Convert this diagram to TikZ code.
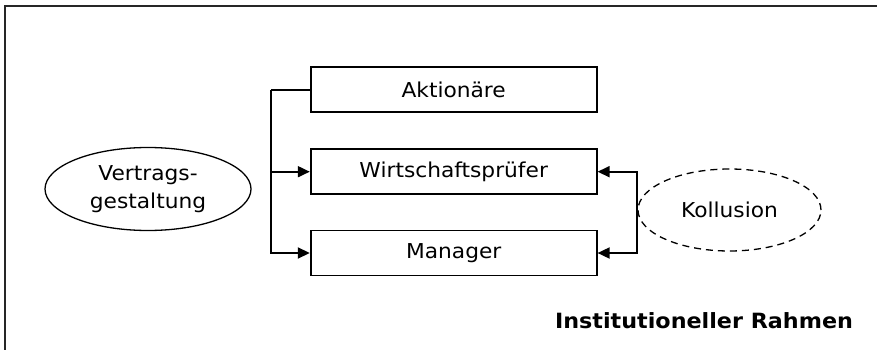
\documentclass[tikz,border=0pt]{standalone}
\usepackage{fontspec}
\setmainfont{DejaVu Sans}
\newfontfamily\widesans[FakeStretch=1.06]{DejaVu Sans}
\usetikzlibrary{shapes.geometric,arrows.meta}
\tikzset{
  rolebox/.style={draw, line width=1.8pt, minimum width=286pt, minimum height=45pt,
    inner sep=0pt, font=\widesans\fontsize{20.5}{24}\selectfont},
  oval/.style={draw, ellipse, line width=1.3pt, inner sep=0pt, align=center,
    font=\widesans\fontsize{20.5}{28.5}\selectfont},
  link/.style={line width=1.8pt, -{Triangle[length=12pt,width=11pt]}},
  frameline/.style={line width=2.2pt, draw=black!85}
}
\begin{document}
\begin{tikzpicture}[x=1pt,y=-1pt]
  \useasboundingbox (0,0) rectangle (877,350);
  % open frame: top and left edges
  \coordinate (fbl) at (5,350);
  \coordinate (ftl) at (5,6);
  \coordinate (ftr) at (877,6);
  \draw[frameline] (fbl) -- (ftl) -- (ftr);

  % the three parties
  \node[rolebox] (akt) at (453.7,89.8) {Aktionäre};
  \node[rolebox] (wp)  at (453.7,171.7) {Wirtschaftsprüfer};
  \node[rolebox] (mgr) at (453.7,253) {Manager};

  % contract design and collusion
  \node[oval, minimum width=206pt, minimum height=83pt] (vg) at (148,189) {Vertrags-\\gestaltung};
  \node[oval, dashed, dash pattern=on 7pt off 5pt, minimum width=183pt, minimum height=82pt] (kol) at (729.5,210) {Kollusion};

  % left bracket from the shareholders
  \coordinate (lb) at (270.7,89.8);
  \draw[line width=1.8pt] (akt.west) -- (lb);
  \draw[link] (lb) |- (wp.west);
  \draw[link] (lb) |- (mgr.west);

  % right bracket from collusion
  \draw[link] (kol.west) |- (wp.east);
  \draw[link] (kol.west) |- (mgr.east);

  % caption
  \node[font=\widesans\bfseries\fontsize{21}{25}\selectfont] (cap) at (704,320.5) {Institutioneller Rahmen};
\end{tikzpicture}
\end{document}
